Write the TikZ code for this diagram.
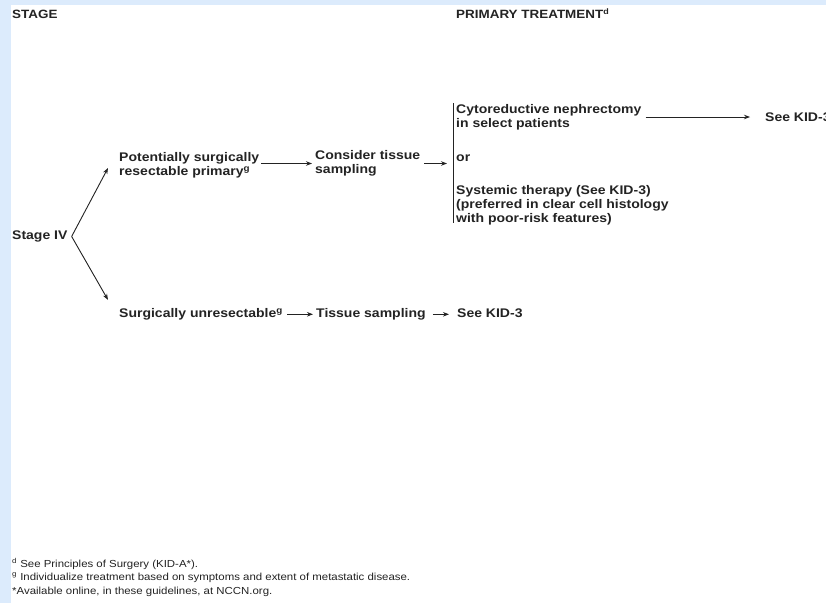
\documentclass[tikz,border=0pt]{standalone}
\usepackage{fontspec}
\setmainfont{Liberation Sans}[FakeStretch=1.12]
\usetikzlibrary{arrows.meta}
\definecolor{panelblue}{RGB}{220,235,252}
\definecolor{inkgray}{RGB}{35,35,35}
\tikzset{
    head/.style={inner sep=0pt, anchor=base west, font=\fontsize{12}{14}\selectfont\bfseries, text=inkgray},
    lbl/.style={inner sep=0pt, anchor=west, align=left, font=\fontsize{12.5}{14}\selectfont\bfseries, text=inkgray},
    note/.style={inner sep=0pt, anchor=base west, font=\fontsize{10.2}{12}\selectfont, text=inkgray},
    rule/.style={draw=inkgray, line width=0.9pt},
    arrow/.style={draw=inkgray, line width=0.9pt, -{Stealth[length=6pt, width=4.5pt]}}
}

\begin{document}
\begin{tikzpicture}[x=1pt, y=-1pt]
\useasboundingbox (0,0) rectangle (826,603);
\fill[panelblue] (0,0) rectangle (826,603);
\fill[white] (11,5) rectangle (826,603);
\node[head] (stage) at (12,18) {STAGE};
\node[head] (primary) at (456,18.5) {PRIMARY TREATMENT\textsuperscript{d}};
\node[lbl, anchor=base west] (stage4) at (12,239.5) {Stage IV};
\node[lbl] (surg) at (119,165.5) {Potentially surgically\\resectable primary\textsuperscript{g}};
\node[lbl] (consider) at (315,163.5) {Consider tissue\\sampling};
\node[lbl] (cyto) at (456,117) {Cytoreductive nephrectomy\\in select patients};
\node[lbl, anchor=base west] (orr) at (456,161.5) {or};
\node[lbl] (systemic) at (456,205) {Systemic therapy (See KID-3)\\(preferred in clear cell histology\\with poor-risk features)};
\node[lbl, anchor=base west] (seekida) at (765,121.5) {See KID-3};
\node[lbl, anchor=base west] (unres) at (119,317.5) {Surgically unresectable\textsuperscript{g}};
\node[lbl, anchor=base west] (tissue) at (316,317.5) {Tissue sampling};
\node[lbl, anchor=base west] (seekidb) at (457,317.5) {See KID-3};
\coordinate (bartop) at (453,103);
\coordinate (barbot) at (453,223);
\draw[rule] (bartop) -- (barbot);
\draw[arrow] ([xshift=4pt]stage4.east) -- ([xshift=-11pt, yshift=-2.5pt]surg.west);
\draw[arrow] ([xshift=4pt]stage4.east) -- ([xshift=-11pt, yshift=14.4pt]unres.west);
\draw[arrow, shorten <=2pt, shorten >=3pt] (surg.east |- consider.west) -- (consider.west);
\draw[arrow, shorten <=4pt, shorten >=6pt] (consider.east) -- (consider.east -| bartop);
\draw[arrow, shorten <=4pt, shorten >=15pt] (cyto.east) -- (cyto.east -| seekida.west);
\draw[arrow, shorten <=4pt, shorten >=3pt] (unres.east) -- (unres.east -| tissue.west);
\draw[arrow, shorten <=7pt, shorten >=8pt] (tissue.east) -- (tissue.east -| seekidb.west);
\node[note] (noted) at (12,567) {\textsuperscript{d} See Principles of Surgery (KID-A*).};
\node[note] (noteg) at (12,580) {\textsuperscript{g} Individualize treatment based on symptoms and extent of metastatic disease.};
\node[note] (noteweb) at (12,594.5) {*Available online, in these guidelines, at NCCN.org.};
\end{tikzpicture}
\end{document}
